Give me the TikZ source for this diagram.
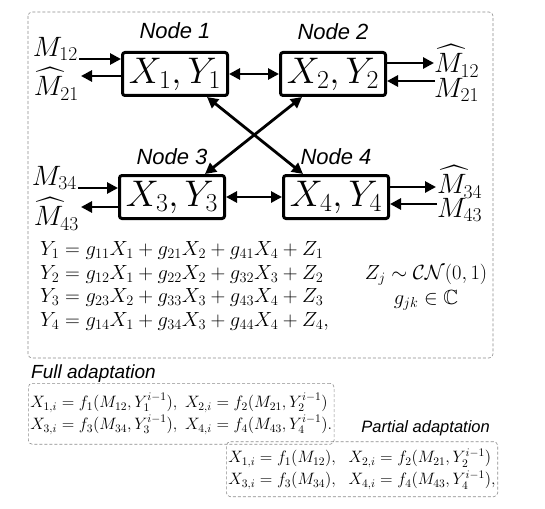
\RequirePackage{fix-cm}
\documentclass[tikz,border=0pt]{standalone}
\usepackage{amsmath,amssymb}
\usepackage{fontspec}
\newfontfamily\helv{Liberation Sans}
\usetikzlibrary{arrows.meta, positioning}

\begin{document}
\begin{tikzpicture}[x=1pt, y=-1pt,
		terminal/.style={rectangle, draw=black, line width=3pt, rounded corners=2.5pt, inner sep=0pt, minimum width=105pt, minimum height=43pt, font=\fontsize{37}{44}\selectfont},
		message/.style={inner sep=0pt, font=\fontsize{28}{32}\selectfont},
		link/.style={line width=2.8pt, {Triangle[length=11pt, width=11pt]}-{Triangle[length=11pt, width=11pt]}},
		feed/.style={line width=2.8pt, -{Triangle[length=11pt, width=11pt]}},
		frame/.style={draw=black!45, densely dashed, line width=0.6pt, rounded corners=4pt},
		title/.style={inner sep=0pt, font=\helv\itshape\fontsize{19}{22}\selectfont},
		scheme/.style={frame, align=left, inner xsep=2pt, inner ysep=10pt, font=\fontsize{16.5}{22}\selectfont},
		every label/.style={inner sep=0pt, font=\helv\itshape\fontsize{22}{26}\selectfont},
		label distance=9pt
		]
		\useasboundingbox (0,0) rectangle (545,508);
		\draw [frame] (28,12) rectangle (493,358);

		% the four terminals
		\node [terminal, label={[label distance=12pt]above:Node 1}] (node1) at (175,74) {$X_1,Y_1$};
		\node [terminal, label={[label distance=11pt]above:Node 2}] (node2) [right=50pt of node1] {$X_2,Y_2$};
		\node [terminal, label=above:Node 3] (node3) [below=77pt of node1, xshift=-3pt] {$X_3,Y_3$};
		\node [terminal, label=above:Node 4] (node4) [right=56pt of node3] {$X_4,Y_4$};

		\draw [link] (node1.east) -- (node1.east -| node2.west);
		\draw [link] (node3.east) -- (node3.east -| node4.west);
		\draw [link] ([xshift=32pt]node1.south) -- ([xshift=-33pt]node4.north);
		\draw [link] ([xshift=-31pt]node2.south) -- ([xshift=33pt]node3.north);

		% messages in and out
		\node [message, anchor=south east] (m12) at (78,61) {$M_{12}$};
		\node [message, anchor=east] (m21hat) at (79,84) {$\widehat{M}_{21}$};
		\node [message, anchor=west] (m12hat) at (434,61) {$\widehat{M}_{12}$};
		\node [message, anchor=west] (m21) at (434,90) {$M_{21}$};
		\node [message, anchor=south east] (m34) at (77,190) {$M_{34}$};
		\node [message, anchor=east] (m43hat) at (79,214) {$\widehat{M}_{43}$};
		\node [message, anchor=west] (m34hat) at (437,182) {$\widehat{M}_{34}$};
		\node [message, anchor=west] (m43) at (437,210) {$M_{43}$};

		\coordinate (in12) at (79,59);
		\coordinate (out21) at (81,76);
		\coordinate (out12) at (434,63);
		\coordinate (in21) at (435,81);
		\coordinate (in34) at (78,188);
		\coordinate (out43) at (81,207);
		\coordinate (out34) at (436,187);
		\coordinate (in43) at (437,204);

		\draw [feed] (in12) -- (in12 -| node1.west);
		\draw [feed] (out21 -| node1.west) -- (out21);
		\draw [feed] (out12 -| node2.east) -- (out12);
		\draw [feed] (in21) -- (in21 -| node2.east);
		\draw [feed] (in34) -- (in34 -| node3.west);
		\draw [feed] (out43 -| node3.west) -- (out43);
		\draw [feed] (out34 -| node4.east) -- (out34);
		\draw [feed] (in43) -- (in43 -| node4.east);

		% channel model
		\node [anchor=west, align=left, inner sep=0pt, font=\fontsize{20.5}{23.5}\selectfont] (channel) at (40,286)
			{$Y_1 = g_{11}X_1 + g_{21}X_2 + g_{41}X_4 + Z_1$\\
			 $Y_2 = g_{12}X_1 + g_{22}X_2 + g_{32}X_3 + Z_2$\\
			 $Y_3 = g_{23}X_2 + g_{33}X_3 + g_{43}X_4 + Z_3$\\
			 $Y_4 = g_{14}X_1 + g_{34}X_3 + g_{44}X_4 + Z_4,$};
		\node [align=center, inner sep=0pt, font=\fontsize{20.5}{25}\selectfont] (noise) at (426,287)
			{$Z_j \sim \mathcal{CN}(0,1)$\\ $g_{jk} \in \mathbb{C}$};

		% encoding schemes
		\node [title, anchor=south west] (fulltitle) at (31,383) {Full adaptation};
		\node [scheme, anchor=north west] (fullbox) at (28,383)
			{$X_{1,i} = f_1(M_{12},Y_1^{i-1}),\ X_{2,i} = f_2(M_{21},Y_2^{i-1})$\\
			 $X_{3,i} = f_3(M_{34},Y_3^{i-1}),\ X_{4,i} = f_4(M_{43},Y_4^{i-1}).$};
		\node [scheme, anchor=south east, inner ysep=7pt] (partialbox) at (498,497)
			{$X_{1,i} = f_1(M_{12}),\ \ X_{2,i} = f_2(M_{21},Y_2^{i-1})$\\
			 $X_{3,i} = f_3(M_{34}),\ \ X_{4,i} = f_4(M_{43},Y_4^{i-1}),$};
		\node [title, font=\helv\itshape\fontsize{16.5}{20}\selectfont] (partialtitle) [above=5pt of partialbox.north east, anchor=south east, xshift=-8pt] {Partial adaptation};
	\end{tikzpicture}
\end{document}
